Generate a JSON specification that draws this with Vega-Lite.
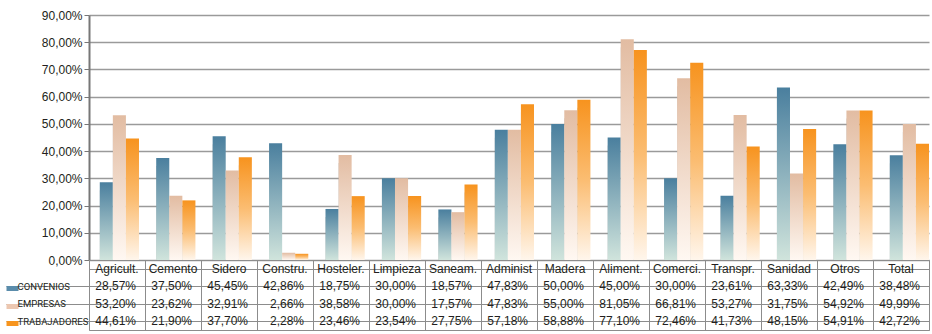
{
  "$schema": "https://vega.github.io/schema/vega-lite/v6.json",
  "background": "white",
  "autosize": {"type": "pad"},
  "padding": {"left": 3, "top": 9, "right": 2, "bottom": 2},
  "spacing": 0,
  "bounds": "flush",
  "config": {
    "locale": {"number": {"decimal": ",", "thousands": ".", "grouping": [3], "currency": ["", " €"]}},
    "font": "Liberation Sans",
    "view": {"stroke": null},
    "axis": {"labelFont": "Liberation Sans", "labelColor": "#231f20"}
  },
  "data": {"values": [
    {"c": "Agricult.", "s": "CONVENIOS", "v": 0.2857},
    {"c": "Cemento", "s": "CONVENIOS", "v": 0.3750},
    {"c": "Sidero", "s": "CONVENIOS", "v": 0.4545},
    {"c": "Constru.", "s": "CONVENIOS", "v": 0.4286},
    {"c": "Hosteler.", "s": "CONVENIOS", "v": 0.1875},
    {"c": "Limpieza", "s": "CONVENIOS", "v": 0.3000},
    {"c": "Saneam.", "s": "CONVENIOS", "v": 0.1857},
    {"c": "Administ", "s": "CONVENIOS", "v": 0.4783},
    {"c": "Madera", "s": "CONVENIOS", "v": 0.5000},
    {"c": "Aliment.", "s": "CONVENIOS", "v": 0.4500},
    {"c": "Comerci.", "s": "CONVENIOS", "v": 0.3000},
    {"c": "Transpr.", "s": "CONVENIOS", "v": 0.2361},
    {"c": "Sanidad", "s": "CONVENIOS", "v": 0.6333},
    {"c": "Otros", "s": "CONVENIOS", "v": 0.4249},
    {"c": "Total", "s": "CONVENIOS", "v": 0.3848},
    {"c": "Agricult.", "s": "EMPRESAS", "v": 0.5320},
    {"c": "Cemento", "s": "EMPRESAS", "v": 0.2362},
    {"c": "Sidero", "s": "EMPRESAS", "v": 0.3291},
    {"c": "Constru.", "s": "EMPRESAS", "v": 0.0266},
    {"c": "Hosteler.", "s": "EMPRESAS", "v": 0.3858},
    {"c": "Limpieza", "s": "EMPRESAS", "v": 0.3000},
    {"c": "Saneam.", "s": "EMPRESAS", "v": 0.1757},
    {"c": "Administ", "s": "EMPRESAS", "v": 0.4783},
    {"c": "Madera", "s": "EMPRESAS", "v": 0.5500},
    {"c": "Aliment.", "s": "EMPRESAS", "v": 0.8105},
    {"c": "Comerci.", "s": "EMPRESAS", "v": 0.6681},
    {"c": "Transpr.", "s": "EMPRESAS", "v": 0.5327},
    {"c": "Sanidad", "s": "EMPRESAS", "v": 0.3175},
    {"c": "Otros", "s": "EMPRESAS", "v": 0.5492},
    {"c": "Total", "s": "EMPRESAS", "v": 0.4999},
    {"c": "Agricult.", "s": "TRABAJADORES", "v": 0.4461},
    {"c": "Cemento", "s": "TRABAJADORES", "v": 0.2190},
    {"c": "Sidero", "s": "TRABAJADORES", "v": 0.3770},
    {"c": "Constru.", "s": "TRABAJADORES", "v": 0.0228},
    {"c": "Hosteler.", "s": "TRABAJADORES", "v": 0.2346},
    {"c": "Limpieza", "s": "TRABAJADORES", "v": 0.2354},
    {"c": "Saneam.", "s": "TRABAJADORES", "v": 0.2775},
    {"c": "Administ", "s": "TRABAJADORES", "v": 0.5718},
    {"c": "Madera", "s": "TRABAJADORES", "v": 0.5888},
    {"c": "Aliment.", "s": "TRABAJADORES", "v": 0.7710},
    {"c": "Comerci.", "s": "TRABAJADORES", "v": 0.7246},
    {"c": "Transpr.", "s": "TRABAJADORES", "v": 0.4173},
    {"c": "Sanidad", "s": "TRABAJADORES", "v": 0.4815},
    {"c": "Otros", "s": "TRABAJADORES", "v": 0.5491},
    {"c": "Total", "s": "TRABAJADORES", "v": 0.4272}
  ]},
  "vconcat": [
    {
      "width": 840,
      "height": 245,
      "view": {"stroke": null},
      "encoding": {
        "x": {"field": "c", "type": "nominal", "sort": null,
          "scale": {"domain": ["Agricult.", "Cemento", "Sidero", "Constru.", "Hosteler.", "Limpieza", "Saneam.", "Administ", "Madera", "Aliment.", "Comerci.", "Transpr.", "Sanidad", "Otros", "Total"], "paddingInner": 0.305, "paddingOuter": 0.0955, "align": 1},
          "axis": null},
        "xOffset": {"field": "s", "type": "nominal", "scale": {"domain": ["CONVENIOS", "EMPRESAS", "TRABAJADORES"], "paddingInner": 0, "paddingOuter": 0}},
        "y": {"field": "v", "type": "quantitative",
          "scale": {"domain": [0, 0.9], "nice": false},
          "axis": {"title": null, "values": [0, 0.1, 0.2, 0.3, 0.4, 0.5, 0.6, 0.7, 0.8, 0.9], "format": ".2%",
            "grid": true, "gridColor": "#9a9a9a", "gridWidth": 1.5,
            "domainColor": "#777777", "domainWidth": 2, "tickColor": "#777777", "tickSize": 5,
            "labelPadding": 2, "labelFontSize": 12}}
      },
      "layer": [
        {"mark": {"type": "bar", "xOffset": 7, "yOffset": 8, "clip": true,
          "color": {"gradient": "linear", "x1": 0, "y1": 0, "x2": 1, "y2": 0,
            "stops": [{"offset": 0.4, "color": "rgba(0,0,0,0.22)"}, {"offset": 1, "color": "rgba(0,0,0,0)"}]}}},
        {"transform": [{"filter": "datum.s === 'CONVENIOS'"}],
          "mark": {"type": "bar",
            "color": {"gradient": "linear", "x1": 0, "y1": 0, "x2": 0, "y2": 1,
              "stops": [{"offset": 0, "color": "#4a7f9e"}, {"offset": 1, "color": "#d0e4dc"}]}}},
        {"transform": [{"filter": "datum.s === 'EMPRESAS'"}],
          "mark": {"type": "bar",
            "color": {"gradient": "linear", "x1": 0, "y1": 0, "x2": 0, "y2": 1,
              "stops": [{"offset": 0, "color": "#e2bca2"}, {"offset": 1, "color": "#fff8f2"}]}}},
        {"transform": [{"filter": "datum.s === 'TRABAJADORES'"}],
          "mark": {"type": "bar",
            "color": {"gradient": "linear", "x1": 0, "y1": 0, "x2": 0, "y2": 1,
              "stops": [{"offset": 0, "color": "#f7931e"}, {"offset": 0.5, "color": "#fbbd72"}, {"offset": 1, "color": "#fff6ec"}]}}}
      ]
    },
    {
      "width": 840,
      "height": 70,
      "view": {"stroke": "#8c8c8c", "strokeWidth": 1},
      "resolve": {"axis": {"y": "independent"}},
      "layer": [
        {
          "mark": {"type": "text", "align": "right", "dx": 19, "fontSize": 12, "color": "#231f20", "baseline": "middle"},
          "encoding": {
            "x": {"field": "c", "type": "nominal", "sort": null,
              "scale": {"domain": ["Agricult.", "Cemento", "Sidero", "Constru.", "Hosteler.", "Limpieza", "Saneam.", "Administ", "Madera", "Aliment.", "Comerci.", "Transpr.", "Sanidad", "Otros", "Total"], "paddingInner": 0, "paddingOuter": 0},
              "axis": {"title": null, "orient": "bottom", "grid": true, "tickBand": "extent", "gridColor": "#8c8c8c", "gridWidth": 1, "labels": false, "ticks": false, "domain": false}},
            "y": {"field": "s", "type": "nominal",
              "scale": {"domain": ["H", "CONVENIOS", "EMPRESAS", "TRABAJADORES"], "paddingInner": 0, "paddingOuter": 0},
              "axis": {"orient": "left", "title": null, "bandPosition": 0, "grid": true, "gridColor": "#8c8c8c",
                "labels": false, "domain": false, "ticks": true, "tickSize": 83,
                "tickColor": {"condition": {"test": "datum.value === 'H'", "value": "transparent"}, "value": "#8c8c8c"}}},
            "text": {"field": "v", "type": "quantitative", "format": ".2%"}
          }
        },
        {
          "transform": [{"filter": "datum.s === 'CONVENIOS'"}],
          "mark": {"type": "text", "fontSize": 12, "color": "#231f20", "baseline": "middle"},
          "encoding": {
            "x": {"field": "c", "type": "nominal", "sort": null,
              "axis": {"title": null, "orient": "bottom", "grid": true, "tickBand": "extent", "gridColor": "#8c8c8c", "gridWidth": 1, "labels": false, "ticks": false, "domain": false}},
            "y": {"datum": "H", "type": "nominal",
              "axis": {"orient": "left", "title": null, "offset": 71, "grid": false, "domain": false,
                "ticks": true, "tickSize": 12, "tickWidth": 5, "tickOffset": 2, "labelOffset": -2,
                "tickColor": {"condition": [
                  {"test": "datum.value === 'H'", "value": "transparent"},
                  {"test": "datum.value === 'CONVENIOS'", "value": "#5a8cab"},
                  {"test": "datum.value === 'EMPRESAS'", "value": "#ecc7b0"}], "value": "#f7941d"},
                "labelExpr": "datum.value === 'H' ? '' : datum.value",
                "labelAlign": "left", "labelPadding": -11, "labelFont": "Roboto", "labelFontSize": 9.5, "labelColor": "#231f20", "labelBaseline": "middle"}},
            "text": {"field": "c", "type": "nominal"}
          }
        }
      ]
    }
  ]
}
